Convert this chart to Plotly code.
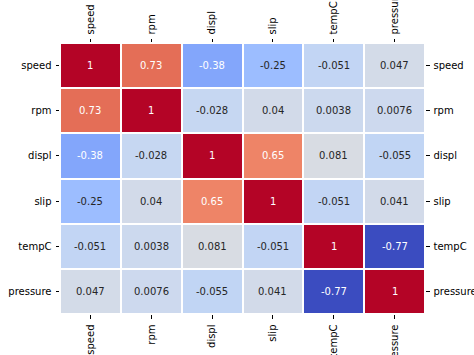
import plotly.graph_objects as go
from plotly.colors import sample_colorscale, unlabel_rgb

labels = ["speed", "rpm", "displ", "slip", "tempC", "pressure"]
corr = [
    [1.0, 0.73, -0.38, -0.25, -0.051, 0.047],
    [0.73, 1.0, -0.028, 0.04, 0.0038, 0.0076],
    [-0.38, -0.028, 1.0, 0.65, 0.081, -0.055],
    [-0.25, 0.04, 0.65, 1.0, -0.051, 0.041],
    [-0.051, 0.0038, 0.081, -0.051, 1.0, -0.77],
    [0.047, 0.0076, -0.055, 0.041, -0.77, 1.0],
]
annot = [
    ["1", "0.73", "-0.38", "-0.25", "-0.051", "0.047"],
    ["0.73", "1", "-0.028", "0.04", "0.0038", "0.0076"],
    ["-0.38", "-0.028", "1", "0.65", "0.081", "-0.055"],
    ["-0.25", "0.04", "0.65", "1", "-0.051", "0.041"],
    ["-0.051", "0.0038", "0.081", "-0.051", "1", "-0.77"],
    ["0.047", "0.0076", "-0.055", "0.041", "-0.77", "1"],
]

# matplotlib coolwarm
_r = [0.2298057, 0.26623388, 0.30386891, 0.342804478, 0.38301334, 0.424369608, 0.46666708,
      0.509635204, 0.552953156, 0.596262162, 0.639176211, 0.681291281, 0.722193294, 0.761464949,
      0.798691636, 0.833466556, 0.865395197, 0.897787179, 0.924127593, 0.944468518, 0.958852946,
      0.96732803, 0.969954137, 0.966811177, 0.958003065, 0.943660866, 0.923944917, 0.89904617,
      0.869186849, 0.834620542, 0.795631745, 0.752534934, 0.705673158]
_g = [0.298717966, 0.353094838, 0.406535296, 0.458757618, 0.50941904, 0.558148092, 0.604562568,
      0.648280772, 0.688929332, 0.726149107, 0.759599947, 0.788964712, 0.813952739, 0.834302879,
      0.849786142, 0.860207984, 0.86541021, 0.848937047, 0.827384882, 0.800927443, 0.769767752,
      0.734132809, 0.694266682, 0.650421156, 0.602842431, 0.551750968, 0.49730856, 0.439559467,
      0.378313092, 0.312874446, 0.24128379, 0.157246067, 0.01555616]
_b = [0.753683153, 0.801466763, 0.84495867, 0.883725899, 0.917387822, 0.945619588, 0.968154911,
      0.98478814, 0.995375608, 0.999836203, 0.998151185, 0.990363227, 0.976574709, 0.956945269,
      0.931688648, 0.901068838, 0.865395561, 0.820880546, 0.774508472, 0.726736146, 0.678007945,
      0.628751763, 0.579375448, 0.530263762, 0.481775914, 0.434243684, 0.387970225, 0.343229596,
      0.300267182, 0.259301199, 0.220525627, 0.184115123, 0.150232812]
coolwarm = [[i / 32, "rgb(%d,%d,%d)" % (round(r * 255), round(g * 255), round(b * 255))]
            for i, (r, g, b) in enumerate(zip(_r, _g, _b))]

flat = [v for row in corr for v in row]
zmin, zmax = min(flat), max(flat)

FONT = "DejaVu Sans"

fig = go.Figure()
fig.add_trace(go.Heatmap(
    z=corr, x=labels, y=labels, colorscale=coolwarm, zmin=zmin, zmax=zmax,
    showscale=False, xgap=2, ygap=2, hoverinfo="skip",
))
fig.add_trace(go.Scatter(
    x=labels, y=labels, xaxis="x2", yaxis="y2", mode="markers",
    marker=dict(opacity=0), showlegend=False, hoverinfo="skip",
))


def lum(v):
    c = sample_colorscale(coolwarm, [(v - zmin) / (zmax - zmin)])[0]
    rgb = [x / 255 for x in unlabel_rgb(c)]
    lin = [x / 12.92 if x <= 0.03928 else ((x + 0.055) / 1.055) ** 2.4 for x in rgb]
    return 0.2126 * lin[0] + 0.7152 * lin[1] + 0.0722 * lin[2]


for i, yl in enumerate(labels):
    for j, xl in enumerate(labels):
        v = corr[i][j]
        fig.add_annotation(
            x=xl, y=yl, text=annot[i][j], showarrow=False,
            font=dict(family=FONT, size=10, color="white" if lum(v) < 0.408 else "#262626"),
        )

axis_common = dict(
    type="category", showgrid=False, zeroline=False, showline=False, automargin=False,
    ticks="outside", ticklen=3.5, tickwidth=0.8, tickcolor="black",
    tickfont=dict(family=FONT, size=10, color="black"), ticklabelstandoff=2,
)

fig.update_layout(
    width=474, height=355,
    margin=dict(l=60, r=49, t=43, b=41, autoexpand=False),
    paper_bgcolor="white", plot_bgcolor="white",
    xaxis=dict(**axis_common, side="bottom", tickangle=-90, range=[-0.5, 5.5]),
    xaxis2=dict(**axis_common, side="top", overlaying="x", tickangle=-90, range=[-0.5, 5.5]),
    yaxis=dict(**axis_common, side="left", range=[5.5, -0.5]),
    yaxis2=dict(**axis_common, side="right", overlaying="y", range=[5.5, -0.5]),
    showlegend=False,
)

fig.write_html(
    "out.html",
    config={"displayModeBar": False},
    post_script="document.body.style.margin='0';document.body.style.overflow='hidden';",
)
